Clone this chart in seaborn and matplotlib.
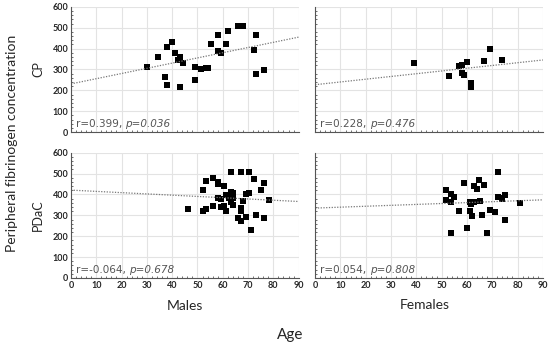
import numpy as np
import pandas as pd
import matplotlib.pyplot as plt
from matplotlib.ticker import MultipleLocator
import seaborn as sns

# age, fibrinogen per panel
cp_m_age = [30.1, 34.3, 37.0, 38.0, 38.1, 40.1, 41.2, 42.3, 43.0, 43.0, 44.2, 49.1, 49.1, 51.3,
            53.2, 54.3, 55.2, 58.3, 58.3, 59.2, 61.2, 62.1, 66.2, 68.2, 72.3, 73.2, 73.2, 76.3]
cp_m_val = [314, 360, 266, 408, 227, 432, 378, 344, 360, 216, 333, 314, 251, 301,
            309, 306, 422, 467, 387, 378, 422, 485, 509, 506, 395, 466, 277, 299]

cp_f_age = [38.9, 53.0, 56.7, 57.9, 57.9, 58.8, 59.9, 61.7, 61.7, 66.8, 69.0, 73.9]
cp_f_val = [330, 269, 317, 322, 285, 275, 334, 235, 216, 342, 397, 346]

pd_m_age = [46.1, 52.2, 52.2, 53.4, 53.4, 56.0, 56.0, 58.1, 58.3, 58.1, 59.2, 59.2, 60.3, 60.3,
            61.3, 61.3, 62.3, 63.2, 63.2, 63.2, 64.2, 64.2, 64.2, 64.2, 66.2, 67.2, 67.2, 67.2,
            67.2, 68.2, 69.3, 69.3, 70.2, 70.2, 71.3, 72.3, 73.2, 75.2, 76.3, 76.3, 78.3]
pd_m_val = [330, 323, 420, 330, 465, 346, 481, 458, 450, 384, 378, 338, 442, 346,
            322, 397, 384, 510, 413, 365, 408, 395, 383, 349, 286, 510, 336, 322,
            273, 370, 403, 291, 407, 510, 228, 474, 304, 423, 455, 288, 373]

pd_f_age = [51.9, 51.9, 53.8, 53.8, 53.8, 54.8, 56.8, 58.8, 59.9, 61.1, 61.1, 61.7, 62.0, 62.9,
            62.9, 63.8, 64.9, 65.0, 66.0, 66.9, 67.9, 69.0, 71.0, 72.1, 72.1, 74.0, 74.0, 74.9,
            74.9, 80.9]
pd_f_val = [420, 373, 404, 365, 217, 386, 320, 455, 240, 365, 320, 354, 299, 442,
            365, 426, 468, 370, 301, 445, 217, 325, 318, 510, 389, 376, 384, 399,
            278, 357]

stats = {
    ("CP", "Males"): ("0.399", "0.036"),
    ("CP", "Females"): ("0.228", "0.476"),
    ("PDaC", "Males"): ("-0.064", "0.678"),
    ("PDaC", "Females"): ("0.054", "0.808"),
}

frames = []
for grp, sex, a, v in [("CP", "Males", cp_m_age, cp_m_val), ("CP", "Females", cp_f_age, cp_f_val),
                       ("PDaC", "Males", pd_m_age, pd_m_val), ("PDaC", "Females", pd_f_age, pd_f_val)]:
    frames.append(pd.DataFrame({"group": grp, "sex": sex, "age": a, "fib": v}))
df = pd.concat(frames, ignore_index=True)

sns.set_style("white")
plt.rcParams['font.family'] = ['Lato', 'DejaVu Sans']

fig = plt.figure(figsize=(5.5, 3.44), dpi=100)
lefts = {"Males": 0.129, "Females": 0.573}
bottoms = {"CP": 0.616, "PDaC": 0.192}

for (grp, sex), (r, p) in stats.items():
    ax = fig.add_axes([lefts[sex], bottoms[grp], 0.414, 0.364])
    ax.set_xlim(0, 90)
    ax.set_ylim(0, 600)
    ax.xaxis.set_major_locator(MultipleLocator(10))
    ax.yaxis.set_major_locator(MultipleLocator(100))
    ax.xaxis.set_minor_locator(MultipleLocator(2))
    ax.yaxis.set_minor_locator(MultipleLocator(20))
    ax.grid(True, which="major", color="#e3e3e3", lw=0.8)
    ax.set_axisbelow(True)
    sub = df[(df.group == grp) & (df.sex == sex)]
    sns.regplot(data=sub, x="age", y="fib", ax=ax, ci=None, truncate=False,
                marker="s", scatter_kws=dict(s=15, color="black", linewidths=0, alpha=1),
                line_kws=dict(color="#777777", lw=0.9, ls=(0, (1, 1.2))))
    ax.set_xlim(0, 90)
    ax.set_ylim(0, 600)
    for side in ["top", "right"]:
        ax.spines[side].set_visible(False)
    for side in ["left", "bottom"]:
        ax.spines[side].set_color("#555555")
        ax.spines[side].set_linewidth(0.8)
    ax.tick_params(which="major", length=0, labelsize=6.5, pad=2)
    ax.tick_params(which="minor", direction="in", length=1.5, width=0.6, color="#555555",
                   left=True, bottom=True)
    for lab in ax.get_xticklabels() + ax.get_yticklabels():
        lab.set_fontweight("bold")
    ax.set_xlabel("")
    ax.set_ylabel("")
    if grp == "CP":
        ax.set_xticklabels([])
    if sex == "Females":
        ax.set_yticklabels([])
    else:
        ax.set_ylabel(grp, fontsize=9, labelpad=6)
    t = ax.text(2, 25, f"r={r}, ", fontsize=7.5, color="#555555", family="DejaVu Sans")
    ax.annotate(f"p={p}", xy=(1, 0), xycoords=t, va="bottom", fontsize=7.5,
                color="#555555", style="italic", family="DejaVu Sans")

fig.text(0.337, 0.11, "Males", ha="center", va="center", fontsize=10)
fig.text(0.773, 0.113, "Females", ha="center", va="center", fontsize=10)
fig.text(0.527, 0.026, "Age", ha="center", va="center", fontsize=11)
fig.text(0.022, 0.584, "Peripheral fibrinogen concentration", rotation=90,
         ha="center", va="center", fontsize=10)

fig.savefig("out.png", dpi=100)
